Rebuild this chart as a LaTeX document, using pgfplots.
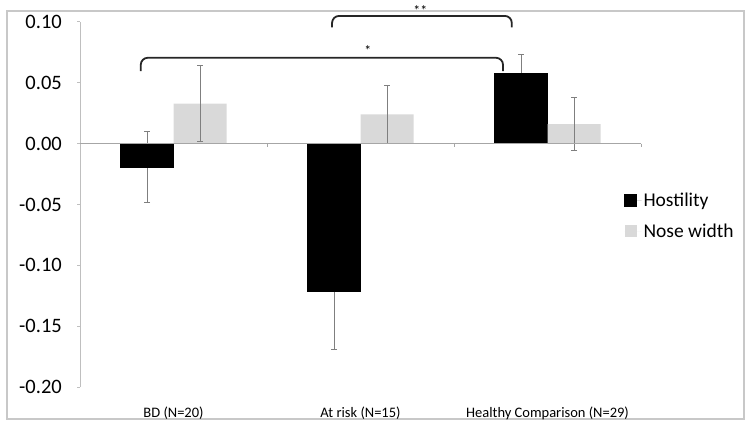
\documentclass[border=0pt]{standalone}
\usepackage{pgfplots}
\pgfplotsset{compat=1.18}
\usepackage{pgfplotstable}
\usepackage{fontspec}
\setmainfont{Carlito}
\definecolor{nose}{HTML}{D9D9D9}
\definecolor{axisgray}{HTML}{BFBFBF}
\definecolor{zerogray}{HTML}{A6A6A6}
\definecolor{errgray}{HTML}{7F7F7F}
\definecolor{framegray}{HTML}{C8C8C8}

\pgfplotstableread{
x H Herr N Nerr
0 -0.019 0.029 0.033 0.031
1 -0.121 0.048 0.024 0.024
2 0.058 0.015 0.016 0.022
}\data

\begin{document}
\begin{tikzpicture}[x=1bp,y=1bp]
\useasboundingbox (0,0) rectangle (750,425);
\draw[framegray, line width=1.5bp] (7,6) rectangle (744,414);
\begin{axis}[
  at={(80bp,38bp)}, anchor=south west,
  scale only axis, width=561bp, height=365bp,
  xmin=-0.5, xmax=2.5, ymin=-0.2, ymax=0.1,
  ybar=0pt, bar width=53bp,
  xtick={0,1,2},
  xticklabels={BD (N=20), At risk (N=15), Healthy Comparison (N=29)},
  ytick={-0.2,-0.15,-0.1,-0.05,0,0.05,0.1},
  yticklabels={-0.20,-0.15,-0.10,-0.05,0.00,0.05,0.10},
  axis y line*=left, axis x line*=bottom,
  axis line style={-},
  x axis line style={draw=none},
  y axis line style={draw=axisgray, line width=1bp},
  xtick style={draw=none},
  ytick style={draw=axisgray, line width=1bp},
  tick align=outside, major tick length=3bp,
  yticklabel style={font=\fontsize{20.5bp}{24bp}\selectfont, inner sep=0pt, xshift=-15bp},
  xticklabel style={font=\fontsize{14.5bp}{17bp}\selectfont, anchor=base, inner sep=0pt, yshift=-27bp},
  legend image code/.code={\fill[#1] (0bp,-6bp) rectangle (12bp,6bp); \path[draw=none] (0bp,0bp) -- (17bp,0bp);},
  legend style={draw=none, fill=none, at={(0.97,0.469)}, anchor=west,
    font=\fontsize{19.5bp}{23bp}\selectfont, row sep=12bp, inner sep=0pt},
  legend cell align=left,
  clip=false,
]
% error bars of Hostility, drawn under its bars
\addplot[draw=none, fill=none, bar shift=-26.5bp, forget plot,
  error bars/.cd, y dir=both, y explicit,
  error bar style={draw=errgray, line width=1bp},
  error mark options={rotate=90, draw=errgray, line width=1bp, mark size=3bp}]
  table[x=x, y=H, y error=Herr] {\data};
\addplot[fill=black, draw=black, bar shift=-26.5bp]
  table[x=x, y=H] {\data};
\addplot[fill=nose, draw=none, bar shift=26.5bp,
  error bars/.cd, y dir=both, y explicit,
  error bar style={draw=errgray, line width=1bp},
  error mark options={rotate=90, draw=errgray, line width=1bp, mark size=3bp}]
  table[x=x, y=N, y error=Nerr] {\data};
\legend{Hostility, Nose width}

\draw[zerogray, line width=1bp] (axis cs:-0.5,0) -- (axis cs:2.5,0);
\draw[zerogray, line width=1bp] (axis cs:0.5,0) -- ([yshift=-3bp]axis cs:0.5,0);
\draw[zerogray, line width=1bp] (axis cs:1.5,0) -- ([yshift=-3bp]axis cs:1.5,0);
\draw[zerogray, line width=1bp] (axis cs:2.5,0) -- ([yshift=-3bp]axis cs:2.5,0);

\draw[black!85, line width=1.8bp, rounded corners=7bp]
  (axis cs:-0.175,0.0597) -- (axis cs:-0.175,0.0706) -- (axis cs:1.762,0.0706) -- (axis cs:1.762,0.0597);
\draw[black!85, line width=1.8bp, rounded corners=7bp]
  (axis cs:0.848,0.0956) -- (axis cs:0.848,0.105) -- (axis cs:1.809,0.105) -- (axis cs:1.809,0.0956);
\node[anchor=base, inner sep=0pt, font=\fontsize{14bp}{15bp}\selectfont] at (axis cs:1.04,0.0722) {*};
\node[anchor=base, inner sep=0pt, font=\fontsize{14bp}{15bp}\selectfont] at (axis cs:1.32,0.1052) {**};
\end{axis}
\end{tikzpicture}
\end{document}
